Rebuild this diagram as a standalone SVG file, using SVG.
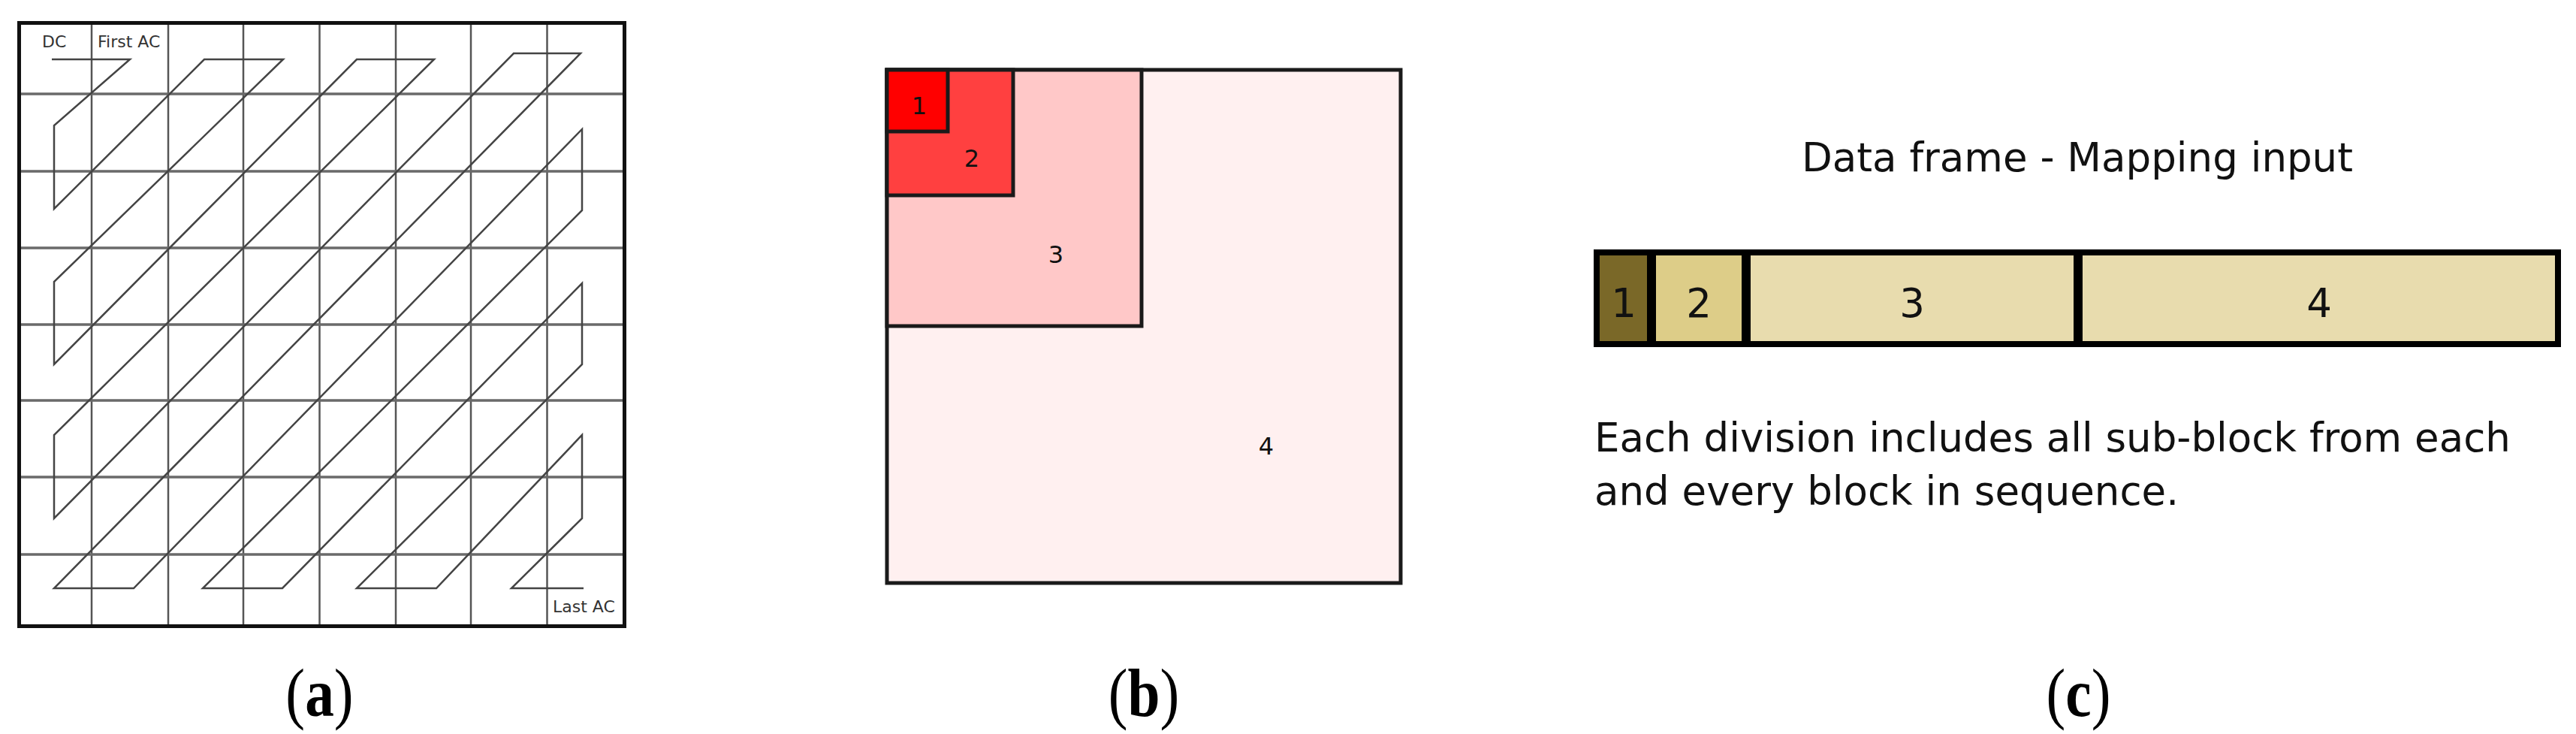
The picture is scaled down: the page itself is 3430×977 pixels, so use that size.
<svg xmlns="http://www.w3.org/2000/svg" width="3430" height="977" viewBox="0 0 3430 977">
<style>
.gv{stroke:#555;stroke-width:2.5;fill:none}
.gh{stroke:#6a6a6a;stroke-width:3.5;fill:none}
.zz{stroke:#444;stroke-width:2.5;fill:none;stroke-linejoin:miter}
.frame{fill:none;stroke:#111;stroke-width:5}
.lblA{font-family:"DejaVu Sans","Verdana",sans-serif;font-size:22px;fill:#333}
.sq{stroke:#1a1a1a;stroke-width:5}
.num{font-family:"DejaVu Sans","Verdana",sans-serif;font-size:32px;fill:#111;text-anchor:middle}
.cell{stroke:#000;stroke-width:8}
.cnum{font-family:"DejaVu Sans","Verdana",sans-serif;font-size:53px;fill:#111;text-anchor:middle}
.txt{font-family:"DejaVu Sans","Verdana",sans-serif;font-size:53px;fill:#111}
.cap{font-family:"Liberation Serif","Times New Roman",serif;font-size:90px;fill:#000;text-anchor:middle}
</style>
<rect width="3430" height="977" fill="#fff"/>

<!-- Panel (a): zigzag scan -->
<g id="panel-a">
  <g id="grid-a">
    <path class="gv" d="M122,28V836M224,28V836M324,28V836M425.5,28V836M527,28V836M627,28V836M728.5,28V836"/>
    <path class="gh" d="M23,125H834M23,228H834M23,330H834M23,432H834M23,533H834M23,635H834M23,738H834"/>
  </g>
  <g id="zigzag">
    <path class="zz" d="M69,79 L173,79 L72,167 L72,278 L272,79 L377,79 L72,375 L72,485 L475,79 L578,79 L72,579 L72,690 L684,71 L773,71 L72,783 L178,783 L775,172 L775,280 L270,783 L376,783 L775,377 L775,485 L475,783 L581,783 L775,579 L775,690 L681,783 L777,783"/>
  </g>
  <rect class="frame" x="25.5" y="30.5" width="806" height="803"/>
  <text class="lblA" x="56" y="63">DC</text>
  <text class="lblA" x="130" y="63">First AC</text>
  <text class="lblA" x="736" y="815">Last AC</text>
</g>

<!-- Panel (b): nested sub-blocks -->
<g id="panel-b">
  <g id="block-4">
    <rect class="sq" x="1181" y="93" width="684" height="683" fill="#fff0f0"/>
    <text class="num" x="1686" y="605">4</text>
  </g>
  <g id="block-3">
    <rect class="sq" x="1181" y="93" width="339" height="341" fill="#ffc8c8"/>
    <text class="num" x="1406" y="350">3</text>
  </g>
  <g id="block-2">
    <rect class="sq" x="1181" y="93" width="168" height="167" fill="#ff4040"/>
    <text class="num" x="1294" y="222">2</text>
  </g>
  <g id="block-1">
    <rect class="sq" x="1181" y="93" width="81" height="82" fill="#ff0000"/>
    <text class="num" x="1224" y="152">1</text>
  </g>
</g>

<!-- Panel (c): data frame -->
<g id="panel-c">
  <text class="txt" x="2766" y="228" text-anchor="middle">Data frame - Mapping input</text>
  <g id="cell-1">
    <rect class="cell" x="2126" y="336" width="71" height="122" fill="#7a6828"/>
    <text class="cnum" x="2162" y="422">1</text>
  </g>
  <g id="cell-2">
    <rect class="cell" x="2201" y="336" width="122" height="122" fill="#ddcd88"/>
    <text class="cnum" x="2262" y="422">2</text>
  </g>
  <g id="cell-3">
    <rect class="cell" x="2327" y="336" width="438" height="122" fill="#e8dcae"/>
    <text class="cnum" x="2546" y="422">3</text>
  </g>
  <g id="cell-4">
    <rect class="cell" x="2769" y="336" width="637" height="122" fill="#e8dcae"/>
    <text class="cnum" x="3088" y="422">4</text>
  </g>
  <text class="txt" x="2123" y="601">Each division includes all sub-block from each</text>
  <text class="txt" x="2123" y="672">and every block in sequence.</text>
</g>

<!-- Captions -->
<g id="captions">
  <text class="cap" transform="translate(425.5,953) scale(0.86,1)">(<tspan font-weight="bold">a</tspan>)</text>
  <text class="cap" transform="translate(1523,953) scale(0.86,1)">(<tspan font-weight="bold">b</tspan>)</text>
  <text class="cap" transform="translate(2767.5,953) scale(0.86,1)">(<tspan font-weight="bold">c</tspan>)</text>
</g>
</svg>
